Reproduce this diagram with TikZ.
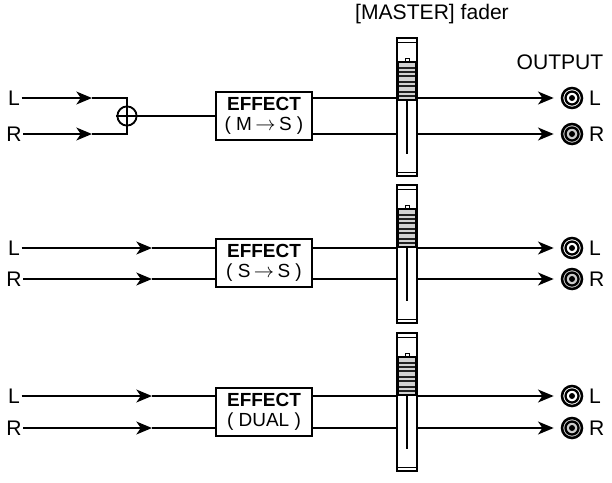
\documentclass[tikz,border=0pt]{standalone}
\usepackage{fontspec}
\setmainfont{Liberation Sans}
\usetikzlibrary{arrows.meta, positioning}

\tikzset{
  sig/.style = {line width=2pt},
  tip/.style = {sig, -{Stealth[length=11pt, width=9pt, inset=3pt]}},
  lbl/.style = {font=\fontsize{15}{15}\selectfont, inner sep=1pt},
  fx/.style  = {draw, line width=1.2pt, minimum width=2.4cm, minimum height=1.2cm,
                align=center, font=\fontsize{13.5}{14}\selectfont, inner sep=1pt},
  jack/.style = {circle, draw, line width=1.8pt, minimum size=0.5cm, inner sep=0pt},
  pics/fader/.style args = {#1/#2}{code={
    % body, caps, slot and knob
    \draw[line width=1.1pt, fill=white] (-10,#1) rectangle (10,#2);
    \draw[line width=0.7pt] (-9,#1+4) -- (9,#1+4) (-9,#2-4) -- (9,#2-4);
    \draw[line width=1.8pt] (0,#1+62) -- (0,#2-22);
    \fill[gray!35] (-9,#1+24) rectangle (9,#1+62);
    \draw[line width=0.5pt] (-2,#1+20) rectangle (2,#1+24);
    \foreach \s in {30,34,38,44,48,54,58}
      \draw[line width=1.3pt, gray!25!black] (-9,#1+\s) -- (9,#1+\s);
    \draw[line width=0.8pt] (-9,#1+24) rectangle (9,#1+62);
  }}
}

\newcommand\outjack[3]{% name, y, fill
  \node[jack, fill=#3] (#1) at (572,#2) {};
  \draw[line width=1.6pt] (#1) circle (6.5);
  \fill (#1) circle (3);
}

\begin{document}
\begin{tikzpicture}[x=0.025cm, y=-0.025cm]
  \useasboundingbox (0,0) rectangle (612,482);
  \node[lbl] at (432,14) {[MASTER] fader};
  \node[lbl] at (560,62) {OUTPUT};
  \coordinate (fadIn) at (397,0);
  \coordinate (fadOut) at (417,0);

  % mono -> stereo
  \node[lbl] (inL1) at (14,98) {L};
  \node[lbl] (inR1) at (14,134) {R};
  \node[circle, draw, line width=1.3pt, minimum size=0.48cm, inner sep=0pt] (sum) at (127,116) {};
  \draw[line width=1.3pt] (sum.north) -- (sum.south) (sum.west) -- (sum.east);
  \node[fx] (fx1) at (264,116) {\textbf{EFFECT}\\( M$\,\rightarrow\,$S )};
  \coordinate (mL1) at (92,98);
  \coordinate (mR1) at (92,134);
  \draw[tip] (inL1) -- (mL1);
  \draw[sig] (mL1) -| (sum);
  \draw[tip] (inR1) -- (mR1);
  \draw[sig] (mR1) -| (sum);
  \draw[sig] (sum) -- (fx1);

  % stereo -> stereo
  \node[lbl] (inL2) at (14,248) {L};
  \node[lbl] (inR2) at (14,279) {R};
  \node[fx] (fx2) at (264,263) {\textbf{EFFECT}\\( S$\,\rightarrow\,$S )};
  \coordinate (mL2) at (152,248);
  \coordinate (mR2) at (152,279);
  \draw[tip] (inL2) -- (mL2);
  \draw[sig] (mL2) -- (fx2.west |- mL2);
  \draw[tip] (inR2) -- (mR2);
  \draw[sig] (mR2) -- (fx2.west |- mR2);

  % dual
  \node[lbl] (inL3) at (14,396) {L};
  \node[lbl] (inR3) at (14,428) {R};
  \node[fx] (fx3) at (264,412) {\textbf{EFFECT}\\( DUAL )};
  \coordinate (mL3) at (152,396);
  \coordinate (mR3) at (152,428);
  \draw[tip] (inL3) -- (mL3);
  \draw[sig] (mL3) -- (fx3.west |- mL3);
  \draw[tip] (inR3) -- (mR3);
  \draw[sig] (mR3) -- (fx3.west |- mR3);

  % outputs through the faders
  \foreach \n/\yl/\yr in {1/98/134, 2/248/279, 3/396/428} {
    \outjack{oL\n}{\yl}{white}
    \outjack{oR\n}{\yr}{gray!40}
    \node[lbl, right=3pt of oL\n] {L};
    \node[lbl, right=3pt of oR\n] {R};
    \draw[sig] (fx\n.east |- oL\n) -- (fadIn |- oL\n);
    \draw[sig] (fx\n.east |- oR\n) -- (fadIn |- oR\n);
    \draw[tip, shorten >=5pt] (fadOut |- oL\n) -- (oL\n);
    \draw[tip, shorten >=5pt] (fadOut |- oR\n) -- (oR\n);
  }
  \pic at (407,0) {fader=38/176};
  \pic at (407,0) {fader=185/323};
  \pic at (407,0) {fader=333/471};
\end{tikzpicture}
\end{document}
